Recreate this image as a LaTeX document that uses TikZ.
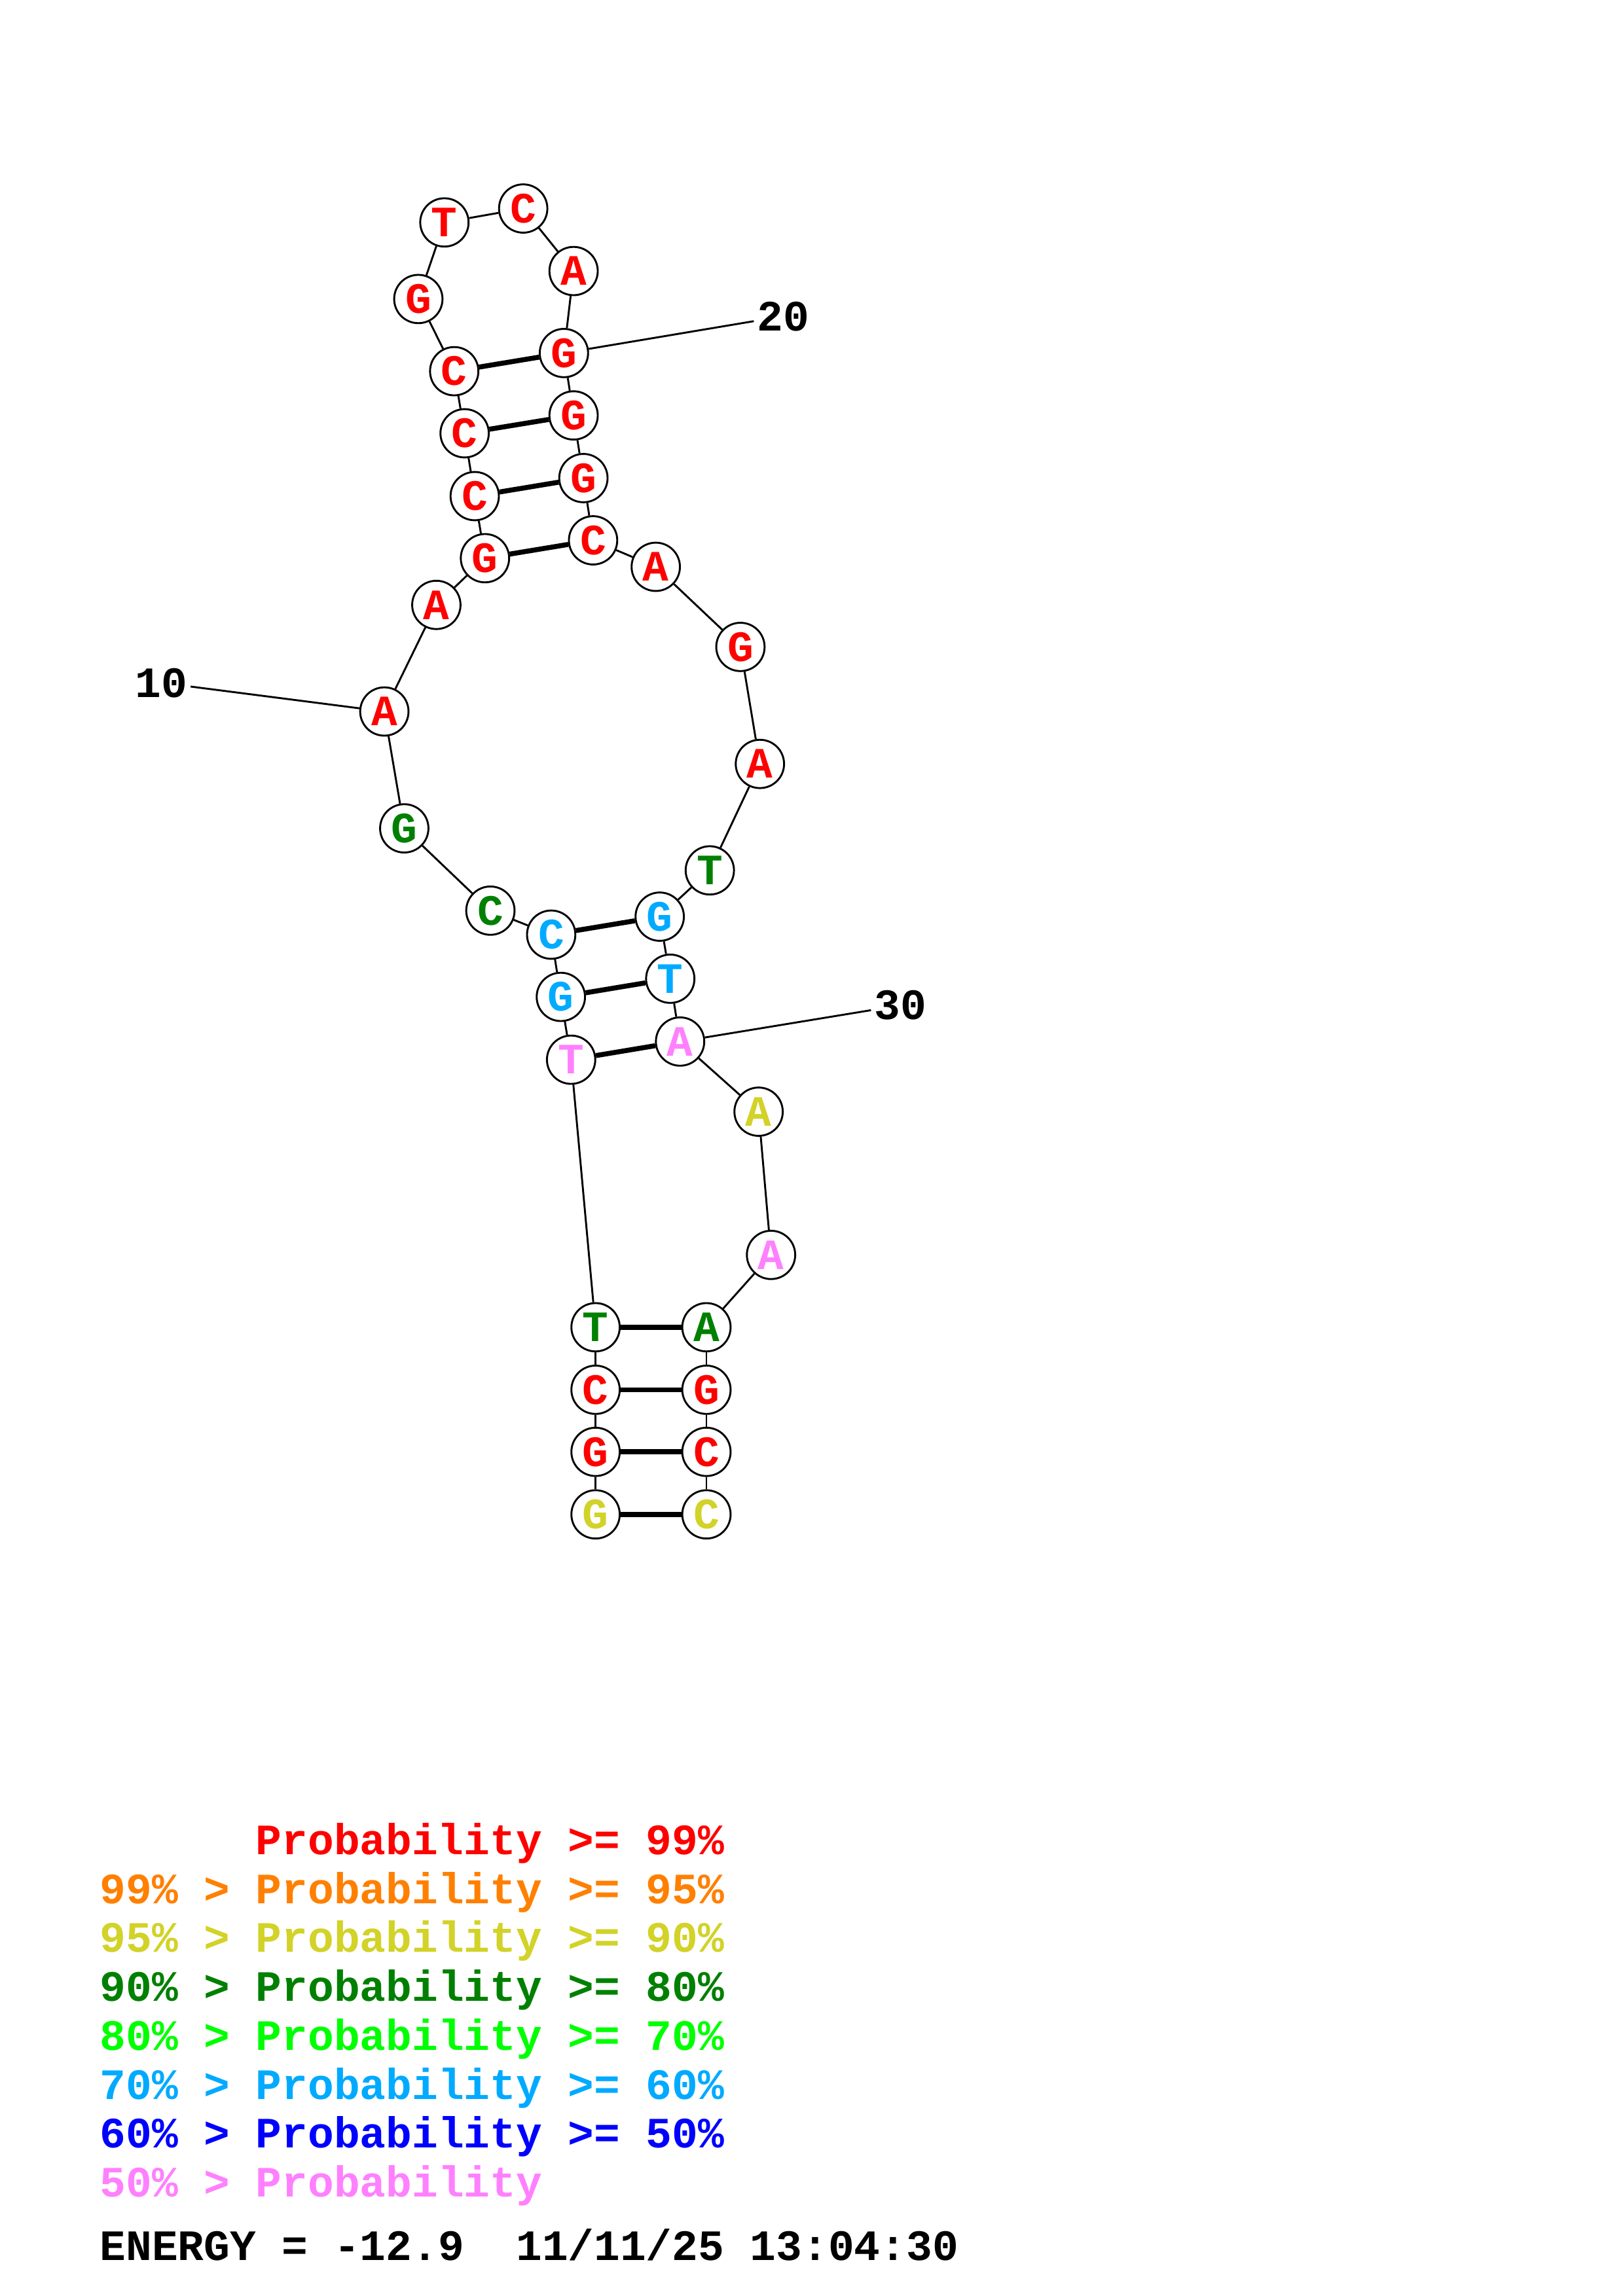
\documentclass[tikz,border=0pt]{standalone}
\usepackage{fontspec}
\setmonofont{Liberation Mono}
\definecolor{cr}{RGB}{255,0,0}
\definecolor{co}{RGB}{255,128,0}
\definecolor{cy}{RGB}{210,210,40}
\definecolor{cdg}{RGB}{0,128,0}
\definecolor{cg}{RGB}{0,255,0}
\definecolor{cb}{RGB}{0,170,255}
\definecolor{cbl}{RGB}{0,0,255}
\definecolor{cp}{RGB}{255,128,255}
\begin{document}
\begin{tikzpicture}[x=1pt,y=-1pt,
  every node/.style={font=\fontsize{29.6}{30}\selectfont\ttfamily\bfseries},
  nt/.style={circle,draw=black,line width=1.3pt,fill=white,minimum size=33pt,inner sep=0pt},
  bb/.style={line width=1.3pt},
  bp/.style={line width=3.4pt},
  lbl/.style={inner sep=2pt},
  leg/.style={anchor=base west,inner sep=0pt}]
\useasboundingbox (0,0) rectangle (1108,1568);
% nucleotides
\node[nt,text=cy]  (n1)  at (406.6,1034.2) {G};
\node[nt,text=cr]  (n2)  at (406.6,991.5) {G};
\node[nt,text=cr]  (n3)  at (406.6,949.1) {C};
\node[nt,text=cdg] (n4)  at (406.6,906.4) {T};
\node[nt,text=cp]  (n5)  at (389.9,723.7) {T};
\node[nt,text=cb]  (n6)  at (382.9,680.8) {G};
\node[nt,text=cb]  (n7)  at (376.3,638.3) {C};
\node[nt,text=cdg] (n8)  at (334.8,621.9) {C};
\node[nt,text=cdg] (n9)  at (276.0,565.7) {G};
\node[nt,text=cr]  (n10) at (262.4,485.9) {A};
\node[nt,text=cr]  (n11) at (297.9,413.1) {A};
\node[nt,text=cr]  (n12) at (331.1,381.2) {G};
\node[nt,text=cr]  (n13) at (324.1,338.8) {C};
\node[nt,text=cr]  (n14) at (317.2,295.9) {C};
\node[nt,text=cr]  (n15) at (310.1,253.5) {C};
\node[nt,text=cr]  (n16) at (285.6,204.2) {G};
\node[nt,text=cr]  (n17) at (303.4,151.9) {T};
\node[nt,text=cr]  (n18) at (357.2,142.4) {C};
\node[nt,text=cr]  (n19) at (391.6,185.1) {A};
\node[nt,text=cr]  (n20) at (385.0,241.1) {G};
\node[nt,text=cr]  (n21) at (391.6,283.7) {G};
\node[nt,text=cr]  (n22) at (398.3,326.5) {G};
\node[nt,text=cr]  (n23) at (404.9,369.0) {C};
\node[nt,text=cr]  (n24) at (447.7,387.1) {A};
\node[nt,text=cr]  (n25) at (505.5,441.8) {G};
\node[nt,text=cr]  (n26) at (518.8,521.7) {A};
\node[nt,text=cdg] (n27) at (484.6,594.4) {T};
\node[nt,text=cb]  (n28) at (450.4,626.0) {G};
\node[nt,text=cb]  (n29) at (457.6,668.4) {T};
\node[nt,text=cp]  (n30) at (464.3,711.3) {A};
\node[nt,text=cy]  (n31) at (517.9,759.2) {A};
\node[nt,text=cp]  (n32) at (526.4,857.0) {A};
\node[nt,text=cdg] (n33) at (482.3,906.4) {A};
\node[nt,text=cr]  (n34) at (482.3,949.1) {G};
\node[nt,text=cr]  (n35) at (482.3,991.5) {C};
\node[nt,text=cy]  (n36) at (482.3,1034.2) {C};
% backbone
\foreach \a/\b in {1/2,2/3,3/4,4/5,5/6,6/7,7/8,8/9,9/10,10/11,11/12,12/13,13/14,14/15,15/16,16/17,17/18,18/19,19/20,20/21,21/22,22/23,23/24,24/25,25/26,26/27,27/28,28/29,29/30,30/31,31/32,32/33,33/34,34/35,35/36}
  \draw[bb] (n\a) -- (n\b);
% base pairs
\foreach \a/\b in {1/36,2/35,3/34,4/33,5/30,6/29,7/28,12/23,13/22,14/21,15/20}
  \draw[bp] (n\a) -- (n\b);
% position labels
\node[lbl] (l10) at (110.2,466.3) {10};
\node[lbl] (l20) at (534.6,216.0) {20};
\node[lbl] (l30) at (614.6,686.6) {30};
\draw[bb] (l10) -- (n10);
\draw[bb] (l20) -- (n20);
\draw[bb] (l30) -- (n30);
% legend
\node[leg,text=cr]  (g1) at (174.5,1266.5) {Probability >= 99\%};
\node[leg,text=co]  (g2) at (68,1299.9) {99\% > Probability >= 95\%};
\node[leg,text=cy]  (g3) at (68,1333.3) {95\% > Probability >= 90\%};
\node[leg,text=cdg] (g4) at (68,1366.7) {90\% > Probability >= 80\%};
\node[leg,text=cg]  (g5) at (68,1400.1) {80\% > Probability >= 70\%};
\node[leg,text=cb]  (g6) at (68,1433.5) {70\% > Probability >= 60\%};
\node[leg,text=cbl] (g7) at (68,1466.9) {60\% > Probability >= 50\%};
\node[leg,text=cp]  (g8) at (68,1500.3) {50\% > Probability};
\node[leg,text=black] (en) at (68,1543.5) {ENERGY = -12.9\ \ 11/11/25 13:04:30};
\end{tikzpicture}
\end{document}
